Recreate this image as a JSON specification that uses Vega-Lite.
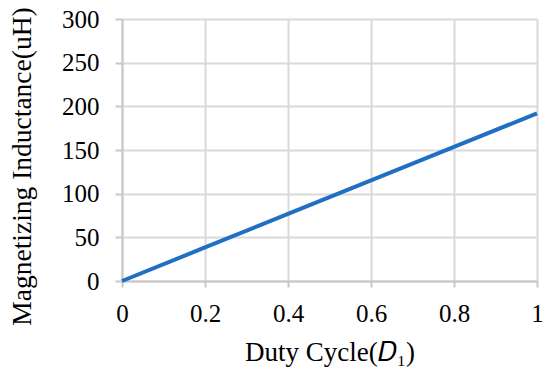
{
  "$schema": "https://vega.github.io/schema/vega-lite/v6.json",
  "width": 415,
  "height": 262,
  "autosize": "none",
  "padding": {"left": 122, "top": 19, "right": 13, "bottom": 94},
  "background": "white",
  "config": {
    "view": {"stroke": null},
    "axis": {
      "gridColor": "#d9d9d9",
      "gridWidth": 2,
      "domainColor": "#c8c8c8",
      "domainWidth": 2,
      "tickColor": "#c8c8c8",
      "tickWidth": 2
    }
  },
  "data": {
    "values": [
      {"d": 0, "l": 0},
      {"d": 0.2, "l": 38.4},
      {"d": 0.4, "l": 76.8},
      {"d": 0.6, "l": 115.2},
      {"d": 0.8, "l": 153.6},
      {"d": 1, "l": 192}
    ]
  },
  "mark": {"type": "line", "color": "#1f6fc2", "strokeWidth": 4, "clip": false},
  "encoding": {
    "x": {
      "field": "d",
      "type": "quantitative",
      "scale": {"domain": [0, 1], "nice": false},
      "axis": {
        "title": "Duty Cycle(𝐷₁)",
        "titleFont": "Times New Roman",
        "titleFontSize": 27,
        "titleFontWeight": "normal",
        "titleColor": "#000000",
        "values": [0, 0.2, 0.4, 0.6, 0.8, 1],
        "labelExpr": "format(datum.value, '~g')",
        "labelFont": "Times New Roman",
        "labelFontSize": 25,
        "labelColor": "#000000",
        "tickSize": 6,
        "labelPadding": 14,
        "titlePadding": 13,
        "labelFlush": false,
        "labelOverlap": false
      }
    },
    "y": {
      "field": "l",
      "type": "quantitative",
      "scale": {"domain": [0, 300], "nice": false},
      "axis": {
        "title": "Magnetizing Inductance(uH)",
        "titleFont": "Times New Roman",
        "titleFontSize": 27.5,
        "titleFontWeight": "normal",
        "titleColor": "#000000",
        "values": [0, 50, 100, 150, 200, 250, 300],
        "labelFont": "Times New Roman",
        "labelFontSize": 25,
        "labelColor": "#000000",
        "tickSize": 7,
        "labelPadding": 16,
        "titlePadding": 25,
        "titleY": 147,
        "labelFlush": false,
        "labelOverlap": false
      }
    }
  }
}
